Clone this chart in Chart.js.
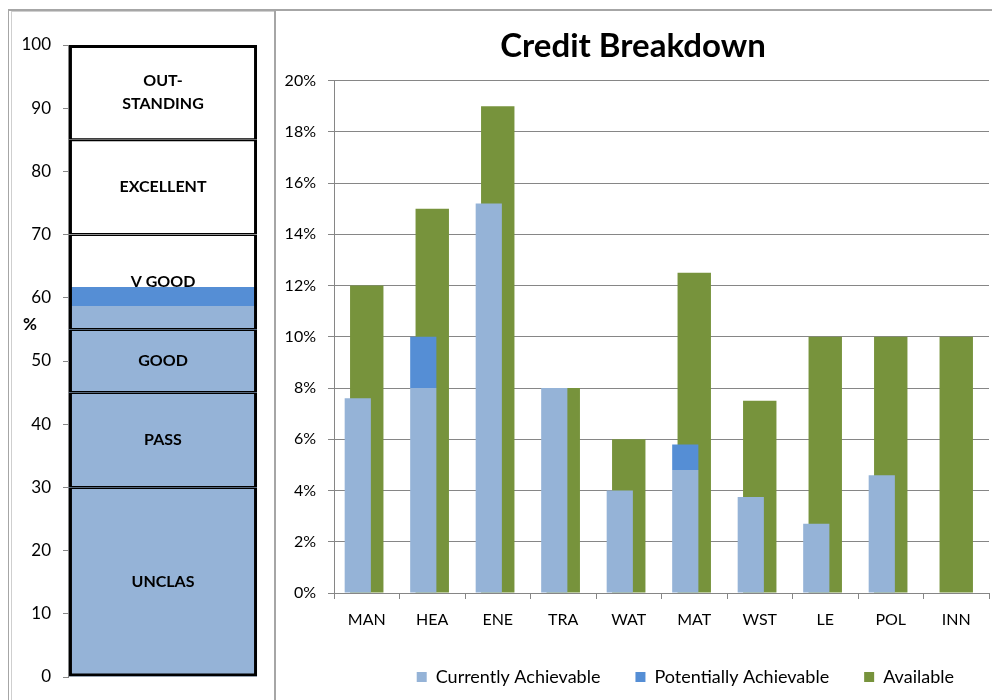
<!DOCTYPE html>
<html>
<head>
<meta charset="utf-8">
<script src="https://cdn.jsdelivr.net/npm/chart.js@4.4.1/dist/chart.umd.min.js"></script>
<style>
html,body{margin:0;padding:0;background:#fff;width:992px;height:700px;overflow:hidden;position:relative;font-family:Lato,sans-serif}
#gauge{position:absolute;left:0;top:0;width:274px;height:700px}
#bars{position:absolute;left:277px;top:0;width:715px;height:720px}
.ln{position:absolute;background:#a6a6a6}
</style>
</head>
<body>
<div class="ln" style="left:8px;top:9px;width:984px;height:2px"></div>
<div class="ln" style="left:8px;top:9px;width:1px;height:691px"></div>
<div class="ln" style="left:11px;top:11px;width:1px;height:689px;background:#cfcfcf"></div>
<div class="ln" style="left:11px;top:11px;width:263px;height:1px;background:#cfcfcf"></div>
<div class="ln" style="left:274px;top:9px;width:2px;height:691px"></div>
<canvas id="gauge" width="274" height="700"></canvas>
<canvas id="bars" width="715" height="720"></canvas>
<script>
// ---------- data: credit breakdown ----------
const categories = ['MAN', 'HEA', 'ENE', 'TRA', 'WAT', 'MAT', 'WST', 'LE', 'POL', 'INN'];
const currentlyAchievable = [7.6, 8.0, 15.2, 8.0, 4.0, 4.8, 3.75, 2.7, 4.6, 0];
const potentiallyAchievable = [0, 2.0, 0, 0, 0, 1.0, 0, 0, 0, 0];
const available = [12, 15, 19, 8, 6, 12.5, 7.5, 10, 10, 10];
const creditAxisMax = 20;
const creditTickStep = 2;

// ---------- data: rating gauge ----------
const ratingBands = ['UNCLAS', 'PASS', 'GOOD', 'V GOOD', 'EXCELLENT', 'OUT-\nSTANDING'];
const ratingThresholds = [0, 30, 45, 55, 70, 85, 100];
const gaugeTickStep = 10;
const scoreCurrent = 58.7;
const scorePotential = 3.0;

Chart.defaults.font.family = 'Lato';
Chart.defaults.color = '#000';

const GRID = '#868686';
const LIGHT = '#95B3D7';
const MID = '#558ED5';
const GREEN = '#77933C';

// ---------- gauge ----------
const bandLabelPlugin = {
  id: 'bandLabels',
  afterDatasetsDraw(chart) {
    const ctx = chart.ctx;
    ctx.save();
    ctx.font = 'bold 16px Lato';
    ctx.fillStyle = '#000';
    ctx.textAlign = 'center';
    ctx.textBaseline = 'middle';
    ratingBands.forEach((name, i) => {
      const el = chart.getDatasetMeta(i).data[0];
      const cy = (el.y + el.base) / 2;
      const lines = name.split('\n');
      const lh = 23;
      lines.forEach((t, k) => ctx.fillText(t, el.x, cy + (k - (lines.length - 1) / 2) * lh));
    });
    ctx.font = 'bold 17px Lato';
    ctx.fillText('%', 30, 325);
    ctx.restore();
  }
};

const bandDatasets = ratingBands.map((name, i) => ({
  label: name,
  data: [[ratingThresholds[i], ratingThresholds[i + 1]]],
  backgroundColor: 'rgba(0,0,0,0)',
  borderColor: '#000',
  borderWidth: {left: 3, right: 3, top: i === ratingBands.length - 1 ? 3 : 1.5, bottom: i === 0 ? 3 : 1.5},
  borderSkipped: false,
  inflateAmount: 0,
  grouped: false,
  categoryPercentage: 1,
  barPercentage: 0.99
}));

new Chart(document.getElementById('gauge'), {
  type: 'bar',
  data: {
    labels: ['Rating'],
    datasets: [
      ...bandDatasets,
      {label: 'Current', data: [[0, scoreCurrent]], backgroundColor: LIGHT, borderWidth: 0, grouped: false, categoryPercentage: 1, barPercentage: 0.99},
      {label: 'Potential', data: [[scoreCurrent, scoreCurrent + scorePotential]], backgroundColor: MID, borderWidth: 0, grouped: false, categoryPercentage: 1, barPercentage: 0.99}
    ]
  },
  options: {
    responsive: false,
    animation: false,
    layout: {padding: {left: 0, right: 16, top: 45, bottom: 23}},
    scales: {
      x: {display: false},
      y: {
        min: 0, max: 100,
        ticks: {stepSize: gaugeTickStep, padding: 12, font: {size: 17}, color: '#000'},
        grid: {drawOnChartArea: false, drawTicks: true, tickLength: 5, color: GRID},
        border: {color: GRID},
        afterFit: s => { s.width = 68; }
      }
    },
    plugins: {legend: {display: false}, tooltip: {enabled: false}, title: {display: false}}
  },
  plugins: [bandLabelPlugin]
});

// ---------- credit breakdown ----------
const shift = 0.137; // offset of achievable bars within each category
new Chart(document.getElementById('bars'), {
  type: 'bar',
  data: {
    labels: categories,
    datasets: [
      {
        label: 'Currently Achievable',
        data: currentlyAchievable.map((v, i) => ({x: i, y: v})),
        xAxisID: 'xb', stack: 'ach',
        backgroundColor: LIGHT, borderWidth: 0,
        grouped: false, categoryPercentage: 1, barPercentage: 0.4
      },
      {
        label: 'Potentially Achievable',
        data: potentiallyAchievable.map((v, i) => ({x: i, y: v})),
        xAxisID: 'xb', stack: 'ach',
        backgroundColor: MID, borderWidth: 0,
        grouped: false, categoryPercentage: 1, barPercentage: 0.4
      },
      {
        label: 'Available',
        data: available,
        xAxisID: 'x', stack: 'avail',
        backgroundColor: GREEN, borderWidth: 0,
        grouped: false, categoryPercentage: 1, barPercentage: 0.51
      }
    ]
  },
  options: {
    responsive: false,
    animation: false,
    layout: {padding: {left: 0, right: 3, top: 27, bottom: 24}},
    scales: {
      x: {
        type: 'category', offset: true,
        grid: {offset: true, drawOnChartArea: false, drawTicks: true, tickLength: 6, color: GRID},
        border: {color: GRID},
        ticks: {font: {size: 16}, color: '#000', padding: 11},
        afterFit: s => { s.height = 40; }
      },
      xb: {type: 'linear', display: false, offset: false, min: -0.5 + shift, max: categories.length - 0.5 + shift},
      y: {
        stacked: true, min: 0, max: creditAxisMax,
        ticks: {stepSize: creditTickStep, padding: 12, font: {size: 16}, color: '#000', callback: v => v + '%'},
        grid: {color: GRID, tickLength: 6},
        border: {color: GRID},
        afterFit: s => { s.width = 57; }
      }
    },
    plugins: {
      title: {display: true, text: 'Credit Breakdown', font: {size: 33, weight: 'bold'}, color: '#000', padding: {top: 0, bottom: 14}},
      legend: {
        position: 'bottom', align: 'end',
        labels: {boxWidth: 10, boxHeight: 10, padding: 35, font: {size: 18}, color: '#000'}
      },
      tooltip: {enabled: false}
    }
  }
});
</script>
</body>
</html>
